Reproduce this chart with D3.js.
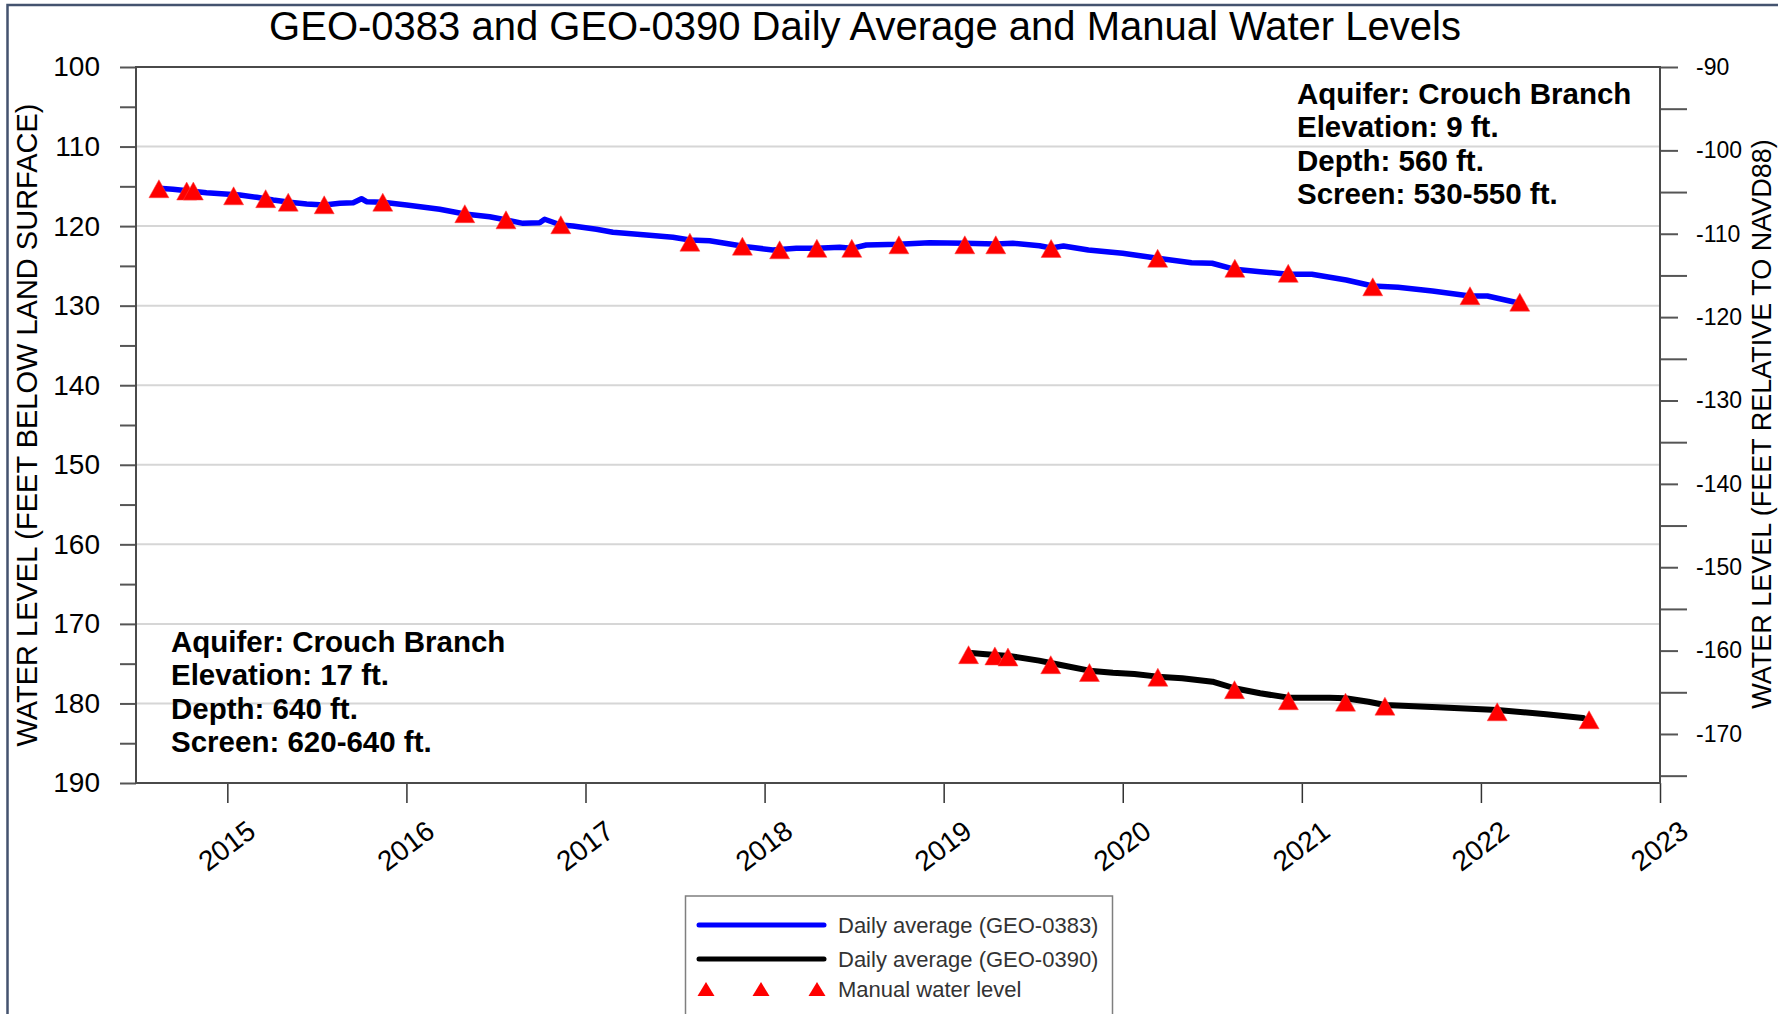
<!DOCTYPE html>
<html><head><meta charset="utf-8">
<script src="https://cdn.jsdelivr.net/npm/d3@7"></script>
<style>
body{margin:0;background:#fff;}
svg{display:block;font-family:"Liberation Sans",Arial,sans-serif;}
</style>
</head><body>
<svg id="c" width="1778" height="1014"></svg>
<script>
// ---------- data ----------
const yearTicks = [2015, 2016, 2017, 2018, 2019, 2020, 2021, 2022, 2023];
const leftTicks = [100, 110, 120, 130, 140, 150, 160, 170, 180, 190];
const rightTicks = [-90, -100, -110, -120, -130, -140, -150, -160, -170];

const blueYears = [2014.618, 2014.696, 2014.884, 2015.070, 2015.164, 2015.256, 2015.349, 2015.443, 2015.541, 2015.628, 2015.703, 2015.749, 2015.777, 2015.868, 2016.001, 2016.186, 2016.326, 2016.465, 2016.559, 2016.651, 2016.744, 2016.772, 2016.862, 2016.930, 2017.061, 2017.153, 2017.340, 2017.488, 2017.583, 2017.693, 2017.805, 2017.898, 2018.046, 2018.177, 2018.292, 2018.419, 2018.487, 2018.568, 2018.749, 2018.921, 2019.118, 2019.291, 2019.386, 2019.535, 2019.600, 2019.669, 2019.808, 2019.999, 2020.195, 2020.384, 2020.499, 2020.626, 2020.768, 2020.924, 2021.056, 2021.248, 2021.396, 2021.537, 2021.729, 2021.939, 2022.036, 2022.217];
const blueLevels = [115.25, 115.37, 115.80, 116.09, 116.38, 116.72, 117.01, 117.22, 117.35, 117.13, 117.06, 116.55, 116.93, 117.01, 117.35, 117.89, 118.48, 118.82, 119.23, 119.65, 119.57, 119.14, 119.86, 119.98, 120.40, 120.78, 121.12, 121.41, 121.74, 121.83, 122.25, 122.59, 123.00, 122.79, 122.79, 122.66, 122.79, 122.37, 122.29, 122.08, 122.16, 122.25, 122.16, 122.46, 122.75, 122.50, 123.00, 123.42, 124.04, 124.60, 124.67, 125.43, 125.73, 126.06, 126.06, 126.77, 127.53, 127.69, 128.16, 128.78, 128.78, 129.70];

const blackYears = [2019.139, 2019.219, 2019.364, 2019.533, 2019.654, 2019.814, 2019.945, 2020.065, 2020.196, 2020.332, 2020.501, 2020.624, 2020.767, 2020.925, 2021.010, 2021.155, 2021.244, 2021.372, 2021.464, 2021.760, 2022.091, 2022.364, 2022.570];
const blackLevels = [173.62, 173.78, 174.03, 174.62, 175.16, 175.88, 176.13, 176.29, 176.63, 176.83, 177.26, 178.09, 178.72, 179.27, 179.27, 179.27, 179.35, 179.78, 180.19, 180.48, 180.82, 181.36, 181.83];

const manualBlueYears = [2014.618, 2014.773, 2014.810, 2015.035, 2015.214, 2015.340, 2015.541, 2015.868, 2016.326, 2016.556, 2016.862, 2017.583, 2017.876, 2018.084, 2018.292, 2018.487, 2018.750, 2019.118, 2019.291, 2019.600, 2020.195, 2020.626, 2020.924, 2021.396, 2021.939, 2022.217];
const manualBlueLevels = [115.30, 115.59, 115.59, 116.19, 116.55, 116.99, 117.32, 116.99, 118.44, 119.21, 119.83, 122.02, 122.52, 122.98, 122.79, 122.79, 122.35, 122.35, 122.35, 122.81, 124.04, 125.30, 125.93, 127.63, 128.75, 129.56];

const manualBlackYears = [2019.139, 2019.286, 2019.359, 2019.598, 2019.814, 2020.196, 2020.624, 2020.925, 2021.244, 2021.464, 2022.091, 2022.604];
const manualBlackLevels = [173.87, 174.03, 174.16, 175.13, 176.11, 176.70, 178.27, 179.66, 179.84, 180.34, 181.05, 182.05];

const titleText = "GEO-0383 and GEO-0390 Daily Average and Manual Water Levels";
const leftAxisTitle = "WATER LEVEL (FEET BELOW LAND SURFACE)";
const rightAxisTitle = "WATER LEVEL (FEET RELATIVE TO NAVD88)";
const infoTopRight = ["Aquifer: Crouch Branch", "Elevation: 9 ft.", "Depth: 560 ft.", "Screen: 530-550 ft."];
const infoBottomLeft = ["Aquifer: Crouch Branch", "Elevation: 17 ft.", "Depth: 640 ft.", "Screen: 620-640 ft."];
const legendLabels = ["Daily average (GEO-0383)", "Daily average (GEO-0390)", "Manual water level"];

// ---------- layout ----------
const svg = d3.select("#c");
const P = {left: 136, right: 1660, top: 67, bottom: 783};
const x = d3.scaleLinear().domain([2014.49, 2023]).range([P.left, P.right]);
const yL = d3.scaleLinear().domain([100, 190]).range([P.top, P.bottom]);
const yR = d3.scaleLinear().domain([-90, -175.88]).range([P.top, P.bottom]);

// outer frame
svg.append("rect").attr("x", 7.5).attr("y", 5).attr("width", 1800).attr("height", 1100)
  .attr("fill", "none").attr("stroke", "#44536f").attr("stroke-width", 2.5);

// title
svg.append("text").attr("x", 865).attr("y", 40).attr("text-anchor", "middle")
  .attr("font-size", 40).attr("fill", "#000").text(titleText);

// gridlines
svg.append("g").selectAll("line").data(leftTicks.filter(v => v > 100 && v < 190)).join("line")
  .attr("x1", P.left).attr("x2", P.right).attr("y1", d => yL(d)).attr("y2", d => yL(d))
  .attr("stroke", "#d6d6d6").attr("stroke-width", 2);

// left axis
const gL = svg.append("g").attr("transform", `translate(${P.left},0)`)
  .call(d3.axisLeft(yL).tickValues(d3.range(100, 191, 5)).tickSize(16).tickPadding(20)
    .tickFormat(d => leftTicks.includes(d) ? d : ""));
gL.select(".domain").remove();
gL.selectAll(".tick line").attr("stroke", "#555").attr("stroke-width", 2);
gL.selectAll(".tick text").attr("font-size", 28).attr("fill", "#000")
  .attr("font-family", "Liberation Sans, Arial, sans-serif");

// right axis major
const gR = svg.append("g").attr("transform", `translate(${P.right},0)`)
  .call(d3.axisRight(yR).tickValues(rightTicks).tickSize(18).tickPadding(18).tickFormat(d => d));
gR.select(".domain").remove();
gR.selectAll(".tick line").attr("stroke", "#555").attr("stroke-width", 2);
gR.selectAll(".tick text").attr("font-size", 23).attr("fill", "#000")
  .attr("font-family", "Liberation Sans, Arial, sans-serif");
// right axis minor
const gR2 = svg.append("g").attr("transform", `translate(${P.right},0)`)
  .call(d3.axisRight(yR).tickValues(d3.range(-95, -176, -10)).tickSize(27).tickFormat(""));
gR2.select(".domain").remove();
gR2.selectAll(".tick line").attr("stroke", "#555").attr("stroke-width", 2);

// bottom axis
const gB = svg.append("g").attr("transform", `translate(0,${P.bottom})`)
  .call(d3.axisBottom(x).tickValues(yearTicks).tickSize(20).tickFormat(d3.format("d")));
gB.select(".domain").remove();
gB.selectAll(".tick line").attr("stroke", "#333").attr("stroke-width", 1.5);
gB.selectAll(".tick text")
  .attr("y", null).attr("dy", null).attr("x", null)
  .attr("font-size", 28).attr("fill", "#000")
  .attr("font-family", "Liberation Sans, Arial, sans-serif")
  .attr("text-anchor", "middle").attr("dominant-baseline", "central")
  .attr("transform", "translate(-1,63) rotate(-37)");

// plot frame
svg.append("rect").attr("x", P.left).attr("y", P.top).attr("width", P.right - P.left)
  .attr("height", P.bottom - P.top).attr("fill", "none").attr("stroke", "#4a4a4a").attr("stroke-width", 2);

// axis titles
svg.append("text").attr("transform", `translate(37,425) rotate(-90)`).attr("text-anchor", "middle")
  .attr("font-size", 29).attr("fill", "#000").text(leftAxisTitle);
svg.append("text").attr("transform", `translate(1771,424) rotate(-90)`).attr("text-anchor", "middle")
  .attr("font-size", 27).attr("fill", "#000").text(rightAxisTitle);

// lines
const line = d3.line().x(d => x(d[0])).y(d => yL(d[1]));
svg.append("path").datum(blueYears.map((t, i) => [t, blueLevels[i]]))
  .attr("d", line).attr("fill", "none").attr("stroke", "#0000ff").attr("stroke-width", 5.5)
  .attr("stroke-linejoin", "round").attr("stroke-linecap", "round");
svg.append("path").datum(blackYears.map((t, i) => [t, blackLevels[i]]))
  .attr("d", line).attr("fill", "none").attr("stroke", "#000").attr("stroke-width", 6)
  .attr("stroke-linejoin", "round").attr("stroke-linecap", "round");

// manual triangles
const tri = (w, h) => `M0,${-h/2}L${w/2},${h/2}L${-w/2},${h/2}Z`;
const manual = manualBlueYears.map((t, i) => [t, manualBlueLevels[i]])
  .concat(manualBlackYears.map((t, i) => [t, manualBlackLevels[i]]));
svg.append("g").selectAll("path").data(manual).join("path")
  .attr("d", tri(20, 18)).attr("transform", d => `translate(${x(d[0])},${yL(d[1])})`)
  .attr("fill", "#ff0000").attr("stroke", "#ff4040").attr("stroke-width", 0.5);

// info blocks
function info(lines, x0, y0) {
  svg.append("g").selectAll("text").data(lines).join("text")
    .attr("x", x0).attr("y", (d, i) => y0 + i * 33.4)
    .attr("font-size", 29.5).attr("font-weight", "bold").attr("fill", "#000").text(d => d);
}
info(infoTopRight, 1297, 104);
info(infoBottomLeft, 171, 652);

// legend
const lg = svg.append("g");
lg.append("rect").attr("x", 685.5).attr("y", 896).attr("width", 427).attr("height", 200)
  .attr("fill", "#fff").attr("stroke", "#7f7f7f").attr("stroke-width", 1.5);
const legY = [925, 959, 989];
lg.append("line").attr("x1", 699).attr("x2", 824).attr("y1", legY[0]).attr("y2", legY[0])
  .attr("stroke", "#0000ff").attr("stroke-width", 5).attr("stroke-linecap", "round");
lg.append("line").attr("x1", 699).attr("x2", 824).attr("y1", legY[1]).attr("y2", legY[1])
  .attr("stroke", "#000").attr("stroke-width", 5).attr("stroke-linecap", "round");
lg.selectAll("path").data([706, 761, 817]).join("path")
  .attr("d", tri(17, 14)).attr("transform", d => `translate(${d},${legY[2]})`).attr("fill", "#ff0000");
lg.selectAll("text").data(legendLabels).join("text")
  .attr("x", 838).attr("y", (d, i) => legY[i]).attr("dominant-baseline", "central")
  .attr("font-size", 22).attr("fill", "#333").text(d => d);
</script>
</body></html>
